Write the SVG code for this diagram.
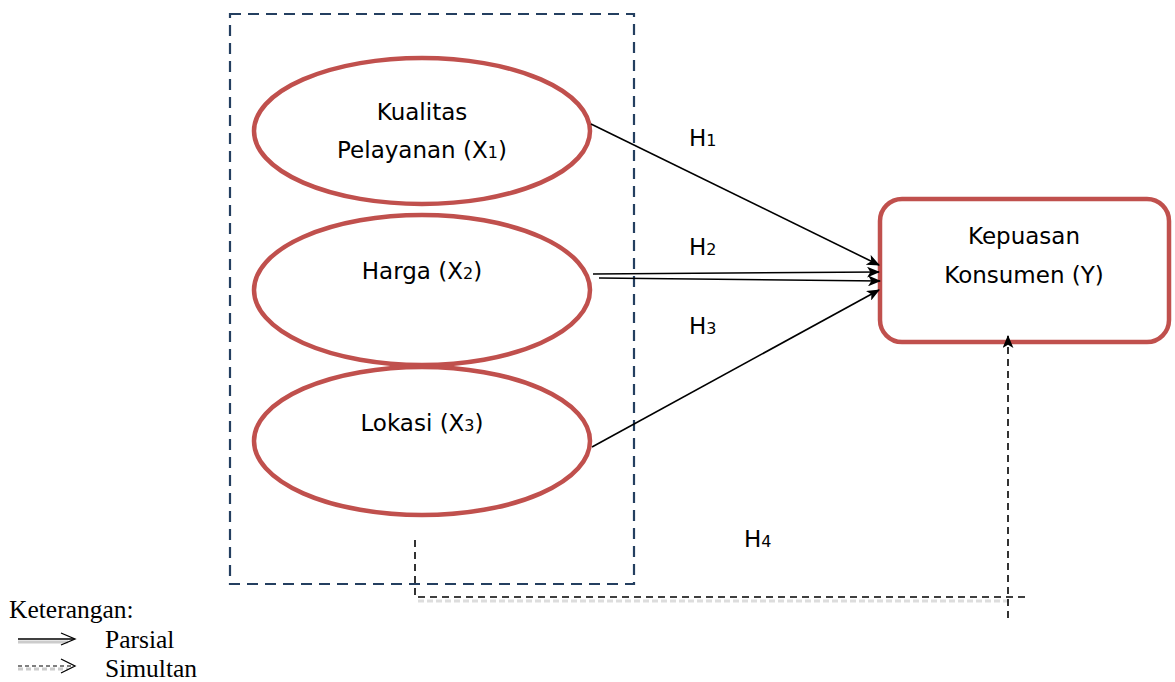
<svg xmlns="http://www.w3.org/2000/svg" width="1175" height="682" viewBox="0 0 1175 682">
<style>
.node{fill:#fff;stroke:#c0504d;stroke-width:4.5}
.t{font-family:"DejaVu Sans",Verdana,sans-serif;font-size:23px;fill:#000}
.sub{font-size:16px}
.leg{font-family:"Liberation Serif","Times New Roman",serif;font-size:25.5px;fill:#000}
.arr{stroke:#000;stroke-width:1.6;fill:none}
.dash{stroke:#000;stroke-width:1.6;fill:none;stroke-dasharray:7 5}
</style>
<defs>
<marker id="ah" viewBox="0 0 12 10" refX="11" refY="5" markerWidth="13" markerHeight="11" markerUnits="userSpaceOnUse" orient="auto">
<path d="M0,0 L12,5 L0,10 L3,5 Z" fill="#000"/>
</marker>
</defs>
<rect x="230" y="14" width="404" height="570" fill="none" stroke="#243f60" stroke-width="2.2" stroke-dasharray="11 7"/>
<g id="x1">
<ellipse class="node" cx="422" cy="131" rx="168" ry="73"/>
<text class="t" x="422" y="120" text-anchor="middle">Kualitas</text>
<text class="t" x="422" y="158" text-anchor="middle">Pelayanan (X<tspan class="sub">1</tspan>)</text>
</g>
<g id="x2">
<ellipse class="node" cx="422" cy="290" rx="168" ry="75"/>
<text class="t" x="422" y="279" text-anchor="middle">Harga (X<tspan class="sub">2</tspan>)</text>
</g>
<g id="x3">
<ellipse class="node" cx="422" cy="441" rx="168" ry="74"/>
<text class="t" x="422" y="431" text-anchor="middle">Lokasi (X<tspan class="sub">3</tspan>)</text>
</g>
<g id="y">
<rect class="node" x="880" y="199" width="289" height="143" rx="22"/>
<text class="t" x="1024" y="244" text-anchor="middle">Kepuasan</text>
<text class="t" x="1024" y="283" text-anchor="middle">Konsumen (Y)</text>
</g>
<g id="connectors">
<line class="arr" x1="591" y1="124" x2="879" y2="265" marker-end="url(#ah)"/>
<line class="arr" x1="593" y1="274" x2="879" y2="272" marker-end="url(#ah)"/>
<line class="arr" x1="599" y1="278" x2="880" y2="281" marker-end="url(#ah)"/>
<line class="arr" x1="592" y1="447" x2="879" y2="290" marker-end="url(#ah)"/>
<line x1="418" y1="601" x2="1010" y2="601" stroke="#ddd" stroke-width="3" stroke-dasharray="6 3"/>
<polyline class="dash" points="415,540 415,597 1025,597"/>
<line class="dash" x1="1008" y1="618" x2="1008" y2="336" marker-end="url(#ah)"/>
</g>
<g id="labels">
<text class="t" x="689" y="146">H<tspan class="sub">1</tspan></text>
<text class="t" x="689" y="255">H<tspan class="sub">2</tspan></text>
<text class="t" x="689" y="334">H<tspan class="sub">3</tspan></text>
<text class="t" x="744" y="547">H<tspan class="sub">4</tspan></text>
</g>
<g id="legend">
<text class="leg" x="9" y="618">Keterangan:</text>
<line x1="18" y1="642" x2="68" y2="642" stroke="#ccc" stroke-width="3"/>
<line x1="18" y1="639" x2="74" y2="639" stroke="#000" stroke-width="1.5"/>
<polyline points="61,633 75,639 61,645" fill="none" stroke="#000" stroke-width="1.3"/>
<text class="leg" x="105" y="648">Parsial</text>
<line x1="18" y1="669" x2="68" y2="669" stroke="#ccc" stroke-width="3" stroke-dasharray="5 3"/>
<line x1="18" y1="666" x2="74" y2="666" stroke="#000" stroke-width="1.2" stroke-dasharray="4 3"/>
<polyline points="61,659 75,666 61,673" fill="none" stroke="#000" stroke-width="1.3"/>
<text class="leg" x="105" y="677">Simultan</text>
</g>
</svg>
